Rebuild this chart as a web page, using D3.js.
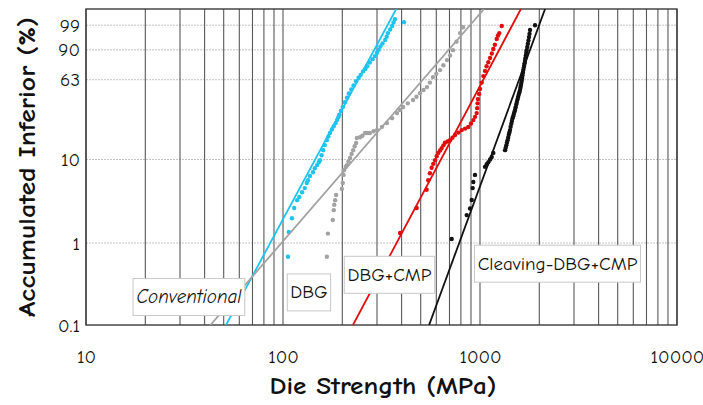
<!DOCTYPE html>
<html>
<head>
<meta charset="utf-8">
<script src="https://cdn.jsdelivr.net/npm/d3@7"></script>
<style>
    body { margin: 0; background: #fff; }
    svg text { font-family: "Comic Sans MS", "Comic Neue", "DejaVu Sans", sans-serif; fill: #111; }
</style>
</head>
<body>
<svg id="chart" width="703" height="405"></svg>
<script>
// Tick values
const xTicks = [10, 100, 1000, 10000];
const yTicks = [0.1, 1, 10, 63, 90, 99];

// Measured points: [die strength (MPa), accumulated inferior (%)]
const conventional = [
    [106, 0.68], [107, 1.36], [111, 2.0], [114, 2.65], [118, 3.3], [121, 3.6], [125, 4.1],
    [129, 4.6], [132, 5.3], [134, 5.7], [137, 6.4], [142, 7.1], [145, 7.9], [149, 8.6],
    [152, 9.3], [154, 9.8], [157, 11.2], [160, 12.8], [163, 14.6], [167, 16.6], [170, 18.2],
    [173, 19.9], [177, 21.7], [181, 23.5], [185, 25.4], [188, 27.3], [191, 29.2], [193, 31],
    [197, 34], [201, 37], [206, 41], [211, 45], [216, 49], [222, 53], [228, 57], [235, 61.5],
    [242, 65], [248, 68], [255, 71.5], [262, 74], [268, 76.5], [276, 80], [285, 83],
    [293, 85.5], [300, 88], [306, 90], [312, 92], [320, 93.6], [330, 95.2], [336, 96.4],
    [341, 97.5], [350, 98.3], [358, 98.9], [364, 99.3], [370, 99.57], [411, 99.34]
];
const dbg = [
    [167, 0.68], [169, 1.3], [179, 1.9], [181, 2.5], [182, 2.9], [184, 3.3], [186, 3.8],
    [199, 4.5], [201, 5.3], [203, 6.6], [204, 7.5], [208, 8.2], [211, 8.6], [215, 9.5],
    [219, 10.4], [223, 11.6], [227, 12.8], [231, 14.2], [235, 15.4], [237, 17.5], [246, 17.9],
    [253, 18.6], [261, 19.9], [268, 19.9], [276, 19.9], [288, 20.8], [300, 21.4], [318, 23.2],
    [337, 25.4], [358, 28.6], [379, 32.2], [393, 34.5], [407, 36.9], [430, 40], [457, 42.9],
    [476, 46], [496, 49.4], [517, 52.5], [538, 55.4], [557, 60], [577, 65.7], [600, 69],
    [627, 72.8], [652, 77.5], [680, 82.2], [705, 86], [729, 89.8], [760, 94.5], [792, 97.5],
    [820, 98.7]
];
const dbgCmp = [
    [393, 1.32], [477, 2.65], [536, 4.4], [546, 5.7], [557, 6.9], [568, 8.0], [579, 8.9],
    [591, 9.8], [603, 10.9], [614, 11.9], [627, 12.7], [639, 13.5], [652, 14.5], [664, 15.5],
    [684, 16.0], [704, 16.6], [725, 17.7], [747, 18.9], [777, 20.1], [807, 21.4], [840, 22.2],
    [872, 23.1], [900, 25.2], [925, 27.3], [944, 29.5], [962, 32.2], [968, 36], [972, 40],
    [976, 43.8], [990, 48.5], [1000, 53.4], [1020, 60], [1040, 66.7], [1060, 72], [1080, 76.5],
    [1102, 80.4], [1125, 84], [1148, 87.5], [1168, 90.5], [1190, 93], [1216, 95.6],
    [1235, 96.8], [1253, 97.5], [1289, 98.9]
];
const cleaving = [
    [718, 1.12], [856, 2.18], [890, 2.62], [908, 3.31], [918, 4.6], [925, 5.43], [943, 6.6],
    [1060, 8.2], [1082, 8.8], [1102, 9.3], [1125, 10], [1147, 10.7], [1168, 11.9],
    [1340, 12.8], [1350, 13.6], [1360, 14.5], [1370, 15.5], [1380, 16.5], [1390, 17.7],
    [1400, 19], [1410, 20.2], [1420, 21.4], [1431, 23.2], [1442, 25], [1452, 26.8],
    [1463, 28.5], [1474, 30], [1485, 31.5], [1495, 33], [1506, 34.5], [1517, 36.8],
    [1528, 39], [1539, 41.2], [1550, 43.5], [1561, 45.8], [1573, 48], [1585, 50.2],
    [1596, 52.4], [1604, 54.7], [1612, 57], [1620, 59.5], [1628, 62], [1636, 64.8],
    [1643, 67.5], [1651, 70.2], [1659, 72.8], [1667, 75], [1675, 77], [1684, 79.3],
    [1692, 81.5], [1700, 83.8], [1709, 86], [1718, 88], [1726, 89.8], [1738, 91.8],
    [1750, 93.5], [1762, 95], [1773, 96.3], [1784, 97.3], [1794, 98.2], [1902, 99.0]
];

// Weibull fits: modulus and characteristic strength (MPa)
const fitModulus = [4.47, 2.78, 4.53, 6.56];
const fitScale = [241, 514, 1041, 1581];

const seriesData = [conventional, dbg, dbgCmp, cleaving];
const seriesColors = ['#1ec3ef', '#a2a2a2', '#e30c0c', '#111111'];

// Annotation boxes: text and anchor [MPa, %]
const labelTexts = ['Conventional', 'DBG', 'DBG+CMP', 'Cleaving-DBG+CMP'];
const labelAnchors = [[33.3, 0.22], [135.5, 0.25], [347, 0.41], [2474, 0.56]];

// Scales
const weib = p => Math.log(-Math.log(1 - p / 100));
const x = d3.scaleLog().domain([10, 10000]).range([86, 677]);
const y = d3.scaleLinear().domain([weib(0.1), weib(99.93)]).range([325, 9]);
const yp = p => y(weib(p));

const svg = d3.select('#chart');
const [x0, x1] = x.range();
const [y0, y1] = y.range();

svg.append('defs').append('clipPath').attr('id', 'plot-clip')
    .append('rect').attr('x', x0).attr('y', y1).attr('width', x1 - x0).attr('height', y0 - y1);

// Horizontal grid (light, dotted)
svg.append('g').selectAll('line').data(yTicks.slice(1)).enter().append('line')
    .attr('x1', x0).attr('x2', x1)
    .attr('y1', d => yp(d)).attr('y2', d => yp(d))
    .attr('stroke', '#c4c4c4').attr('stroke-width', 1).attr('stroke-dasharray', '2,1');

// Vertical grid at every log tick
svg.append('g').selectAll('line').data(x.ticks()).enter().append('line')
    .attr('x1', d => x(d)).attr('x2', d => x(d))
    .attr('y1', y1).attr('y2', y0)
    .attr('stroke', '#585858').attr('stroke-width', 1.1);

// Frame
svg.append('rect')
    .attr('x', x0).attr('y', y1).attr('width', x1 - x0).attr('height', y0 - y1)
    .attr('fill', 'none').attr('stroke', '#3a3a3a').attr('stroke-width', 1.4);

// Series: fit line, then points
const plot = svg.append('g').attr('clip-path', 'url(#plot-clip)');
const wEnds = y.domain();
seriesData.forEach((pts, i) => {
    const m = fitModulus[i], s0 = fitScale[i];
    plot.append('line')
        .attr('x1', x(s0 * Math.exp(wEnds[0] / m))).attr('y1', y(wEnds[0]))
        .attr('x2', x(s0 * Math.exp(wEnds[1] / m))).attr('y2', y(wEnds[1]))
        .attr('stroke', seriesColors[i]).attr('stroke-width', 1.8);
    plot.append('g').selectAll('circle').data(pts).enter().append('circle')
        .attr('cx', d => x(d[0])).attr('cy', d => yp(d[1])).attr('r', 2.2)
        .attr('fill', seriesColors[i]);
});

// Axes labels
const xAxis = svg.append('g').attr('transform', `translate(0,${y0})`)
    .call(d3.axisBottom(x).tickValues(xTicks).tickFormat(d3.format('d')).tickSize(0).tickPadding(25));
const yAxis = svg.append('g').attr('transform', `translate(${x0},0)`)
    .call(d3.axisLeft(y).tickValues(yTicks.map(weib)).tickFormat((d, i) => yTicks[i]).tickSize(0).tickPadding(6));
[xAxis, yAxis].forEach(a => {
    a.select('.domain').remove();
    a.selectAll('text').attr('font-size', 19).style('font-family', null).attr('fill', '#222');
});

// Annotation boxes
labelTexts.forEach((t, i) => {
    const cx = x(labelAnchors[i][0]), cy = yp(labelAnchors[i][1]);
    const g = svg.append('g');
    const rect = g.append('rect');
    const txt = g.append('text')
        .attr('x', cx).attr('y', cy)
        .attr('text-anchor', 'middle').attr('dominant-baseline', 'central')
        .attr('font-size', 19)
        .style('font-style', i === 0 ? 'italic' : 'normal')
        .text(t);
    const bb = txt.node().getBBox();
    rect.attr('x', cx - bb.width / 2 - 3).attr('y', cy - 18.5)
        .attr('width', bb.width + 6).attr('height', 37)
        .attr('fill', '#fff').attr('stroke', '#c8c8c8').attr('stroke-width', 1);
});

// Axis titles
svg.append('text')
    .attr('x', 383).attr('y', 394)
    .attr('text-anchor', 'middle')
    .attr('font-size', 25).attr('font-weight', 'bold')
    .attr('textLength', 227).attr('lengthAdjust', 'spacingAndGlyphs')
    .text('Die Strength (MPa)');
svg.append('text')
    .attr('transform', 'translate(35,167) rotate(-90)')
    .attr('text-anchor', 'middle')
    .attr('font-size', 25).attr('font-weight', 'bold')
    .attr('textLength', 300).attr('lengthAdjust', 'spacingAndGlyphs')
    .text('Accumulated Inferior (%)');
</script>
</body>
</html>
